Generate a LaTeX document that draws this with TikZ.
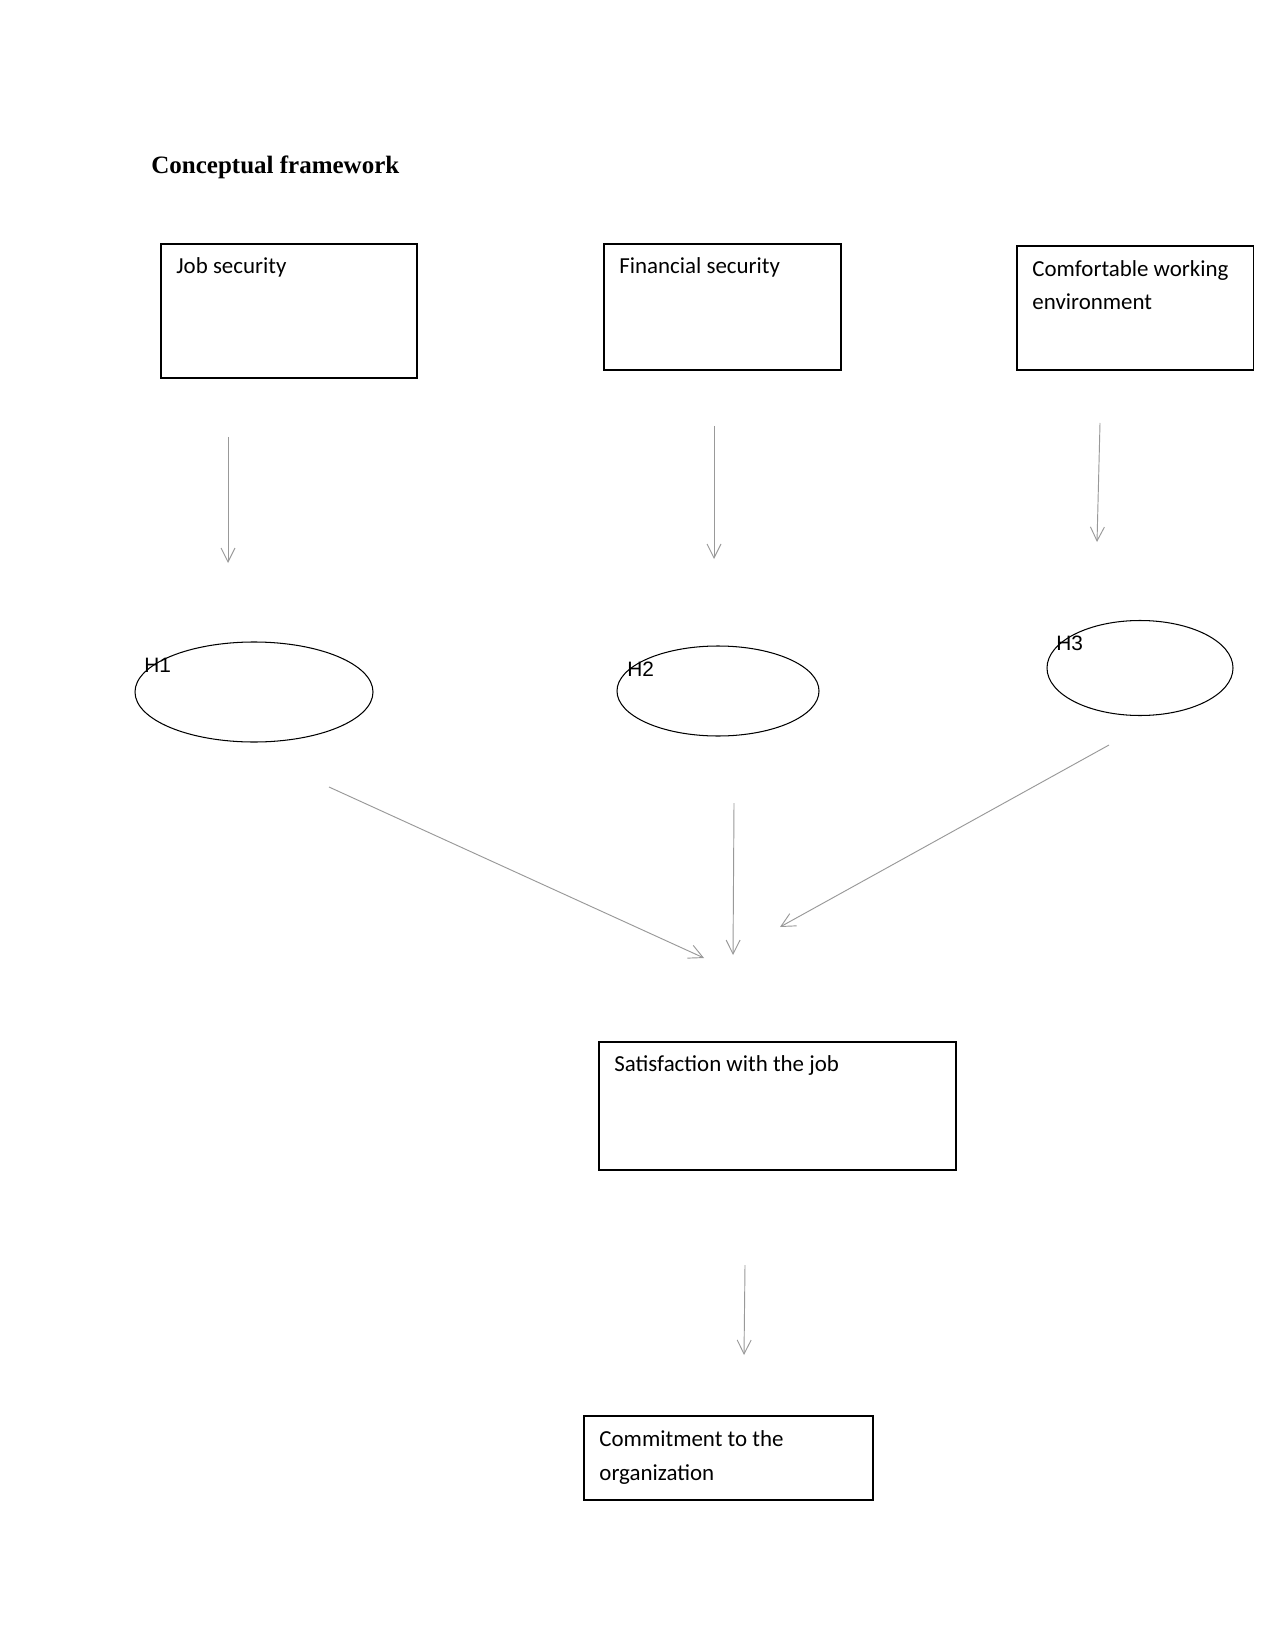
\documentclass[tikz,border=0pt]{standalone}
\usepackage{fontspec}
\setmainfont{Carlito}
\newfontfamily\titlefont{Liberation Serif}
\newfontfamily\hfont{Liberation Sans}
\usetikzlibrary{arrows.meta,shapes.geometric,fit}
\begin{document}
\begin{tikzpicture}[x=0.48pt,y=-0.48pt,
  box/.style={draw=black,line width=0.5pt,inner sep=0pt},
  hyp/.style={draw=black,line width=0.5pt,ellipse,inner sep=0pt},
  lbl/.style={anchor=base west,inner sep=0pt,font=\fontsize{11}{16}\selectfont,align=left},
  hlbl/.style={anchor=base west,inner sep=0pt,font=\hfont\fontsize{10}{12}\selectfont},
  conn/.style={draw=black!40,line width=0.45pt,-{Straight Barb[length=6.7pt,width=6.7pt,line width=0.45pt]}}]
\useasboundingbox[fill=white] (0,0) rectangle (1275,1650);
% title
\node[anchor=base west,inner sep=0pt,font=\titlefont\bfseries\fontsize{12}{15}\selectfont] (title) at (151,174) {Conceptual framework};
% boxes
\node[box,fit={(161,244) (417,378)}] (job) {};
\node[box,fit={(604,244) (841,370)}] (fin) {};
\node[box,fit={(1017,246) (1253,370)}] (env) {};
\node[box,fit={(599,1042) (956,1170)}] (sat) {};
\node[box,fit={(584,1416) (873,1500)}] (com) {};
\node[lbl] (tjob) at (176,274) {Job security};
\node[lbl] (tfin) at (619,274) {Financial security};
\node[lbl] (tenv) at (1032,310) {Comfortable working\\environment};
\node[lbl] (tsat) at (614,1071) {Satisfaction with the job};
\node[lbl] (tcom) at (599,1480) {Commitment to the\\organization};
% ellipses
\node[hyp,minimum width={238*0.48pt},minimum height={100*0.48pt}] (h1) at (254,692) {};
\node[hyp,minimum width={202*0.48pt},minimum height={90*0.48pt}] (h2) at (718,691) {};
\node[hyp,minimum width={186*0.48pt},minimum height={95*0.48pt}] (h3) at (1140,668) {};
\node[hlbl] (th1) at (144,672) {H1};
\node[hlbl] (th2) at (627,676) {H2};
\node[hlbl] (th3) at (1056,650) {H3};
% connector ends
\coordinate (a1s) at (228,437); \coordinate (a1e) at (228,563);
\coordinate (a2s) at (714,426); \coordinate (a2e) at (714,559);
\coordinate (a3s) at (1100,423); \coordinate (a3e) at (1097,542);
\coordinate (d1s) at (329,787); \coordinate (d1e) at (704,958);
\coordinate (d2s) at (734,803); \coordinate (d2e) at (733,955);
\coordinate (d3s) at (1109,745); \coordinate (d3e) at (780,927);
\coordinate (a4s) at (745,1265); \coordinate (a4e) at (744,1355);
\draw[conn] (a1s) -- (a1e);
\draw[conn] (a2s) -- (a2e);
\draw[conn] (a3s) -- (a3e);
\draw[conn] (d1s) -- (d1e);
\draw[conn] (d2s) -- (d2e);
\draw[conn] (d3s) -- (d3e);
\draw[conn] (a4s) -- (a4e);
\end{tikzpicture}
\end{document}
